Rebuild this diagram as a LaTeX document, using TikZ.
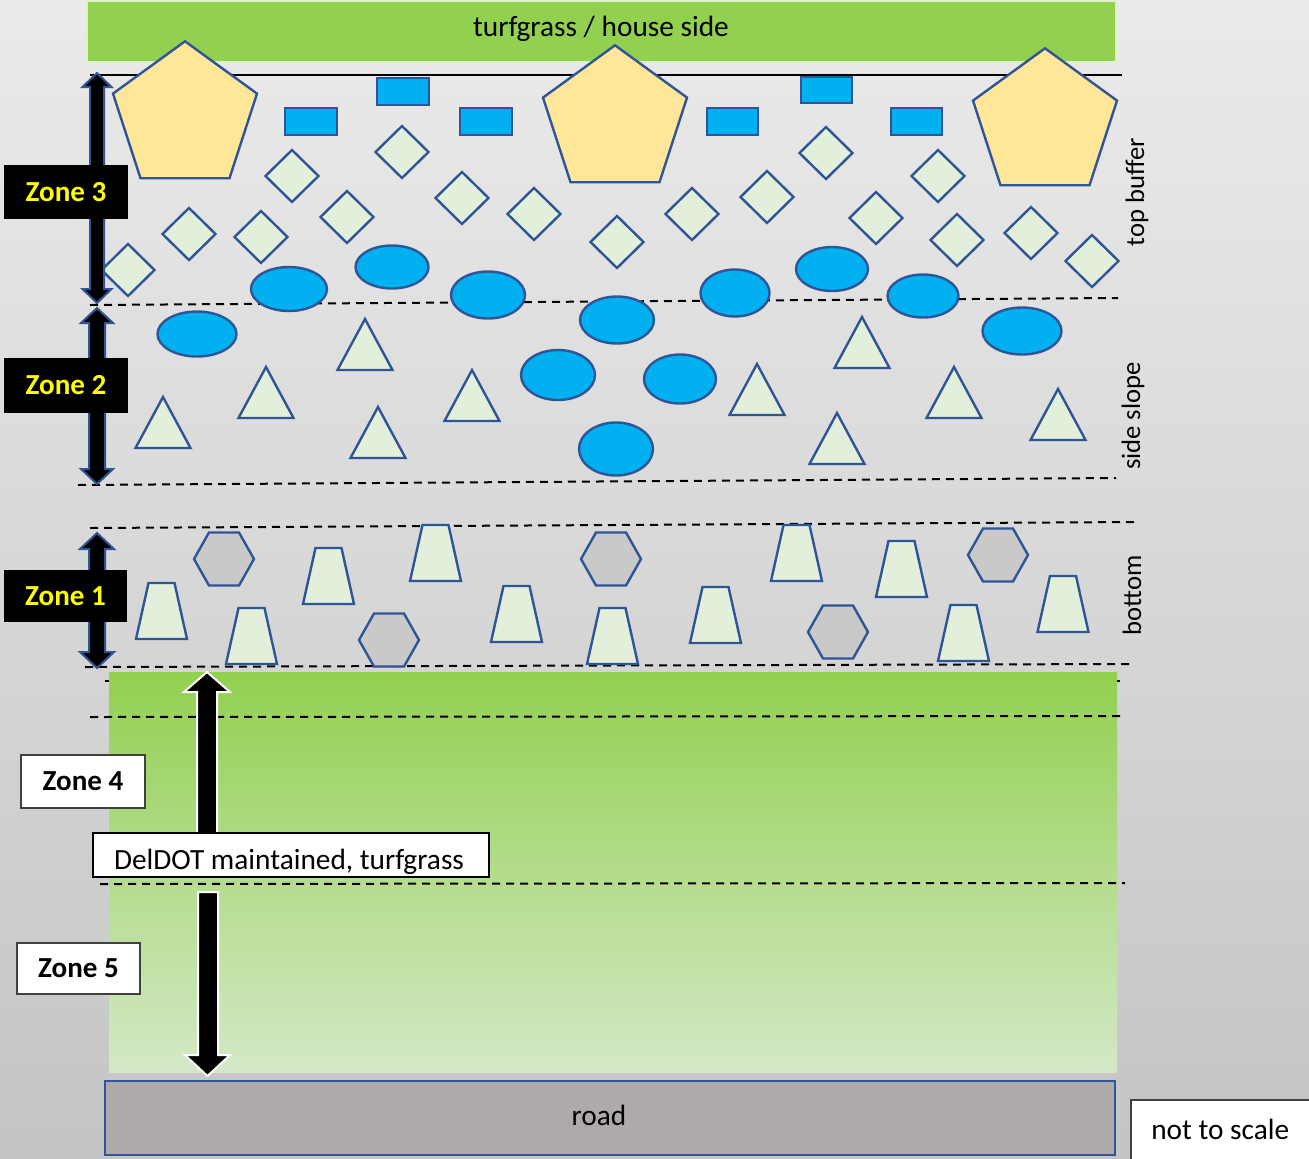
\documentclass[tikz,border=0pt]{standalone}
\usepackage{fontspec}
\setmainfont{Carlito}
\definecolor{sblue}{HTML}{2F5597}
\definecolor{sky}{HTML}{00B0F0}
\definecolor{lgreen}{HTML}{E2EFDA}
\definecolor{pentfill}{HTML}{FFE699}
\definecolor{hexfill}{HTML}{C9C9C9}
\definecolor{grass}{HTML}{92D050}
\definecolor{grasslight}{HTML}{D4E8C6}
\definecolor{roadfill}{HTML}{AEAAAA}
\definecolor{boxedge}{HTML}{404040}
\definecolor{zoneyellow}{HTML}{FFFF00}
\tikzset{
  shp/.style={draw=sblue, line width=1.8pt, line join=miter},
  dash line/.style={draw=black, line width=1.5pt, dash pattern=on 6pt off 4.5pt},
  lbl/.style={inner sep=0pt, font=\fontsize{22}{26}\selectfont},
  sidelbl/.style={inner sep=0pt, font=\fontsize{20}{24}\selectfont, rotate=90},
  zoneblk/.style={fill=black, inner sep=0pt, text=zoneyellow, font=\fontsize{21.8}{26}\selectfont\bfseries},
  zonewht/.style={fill=white, draw=boxedge, line width=1.5pt, inner sep=0pt, text=black, font=\fontsize{21.8}{26}\selectfont\bfseries},
  arrblue/.style={fill=black, draw=sblue, line width=1.5pt, line join=miter},
  arrwhite/.style={fill=black, draw=white, line width=1.5pt, line join=miter}
}
\newcommand\mkdiam[2]{\draw[shp,fill=lgreen] (#1,#2-26) -- (#1+26.5,#2) -- (#1,#2+26) -- (#1-26.5,#2) -- cycle;}
\newcommand\mktri[2]{\draw[shp,fill=lgreen] (#1,#2) -- (#1+27.5,#2+51) -- (#1-27.5,#2+51) -- cycle;}
\newcommand\mktrap[2]{\draw[shp,fill=lgreen] (#1-13,#2) -- (#1+13,#2) -- (#1+25.5,#2+56) -- (#1-25.5,#2+56) -- cycle;}
\newcommand\mkhex[2]{\draw[shp,fill=hexfill] (#1-30,#2) -- (#1-15,#2-26.5) -- (#1+15,#2-26.5) -- (#1+30,#2) -- (#1+15,#2+26.5) -- (#1-15,#2+26.5) -- cycle;}
\newcommand\mkell[4]{\draw[shp,fill=sky] (#1,#2) ellipse [x radius=#3*0.75pt, y radius=#4*0.75pt];}
\newcommand\mkrect[4]{\draw[shp,fill=sky] (#1,#2) rectangle (#3,#4);}
\newcommand\mkpent[2]{\draw[shp,fill=pentfill] (#1,#2-75.7) -- (#1+72,#2-23.4) -- (#1+44.5,#2+61.2) -- (#1-44.5,#2+61.2) -- (#1-72,#2-23.4) -- cycle;}
\newcommand\dblarr[6]{\draw[arrblue] (#1,#2) -- (#1+#5,#2+#4) -- (#1+#6,#2+#4) -- (#1+#6,#3-#4) -- (#1+#5,#3-#4) -- (#1,#3) -- (#1-#5,#3-#4) -- (#1-#6,#3-#4) -- (#1-#6,#2+#4) -- (#1-#5,#2+#4) -- cycle;}
\begin{document}
\begin{tikzpicture}[x=0.75pt,y=-0.75pt]
\useasboundingbox (0,0) rectangle (1309,1158);
% background
\shade[top color=black!8, middle color=black!11, bottom color=black!23] (0,0) rectangle (1309,1158);
% top green bar
\fill[grass] (87,1) rectangle (1116,62);
\draw[white!70!grass, line width=1pt] (87,1) rectangle (1116,62);
\node[lbl] (topbar) at (601,29) {turfgrass / house side};
% solid line
\draw[black, line width=1.5pt] (90,75) -- (1122,75);
% dashed zone lines
\draw[dash line] (90,305) -- (1118,298);
\draw[dash line] (78,485) -- (1116,478);
\draw[dash line] (90,528) -- (1135,522);
\draw[dash line] (85,667) -- (1130,664);
\draw[dash line] (105,681) -- (1120,681);
% lower green area
\shade[top color=grass, bottom color=grasslight] (109,672) rectangle (1117,1072);
\draw[dash line] (90,717) -- (1120,716);
\draw[dash line] (100,884) -- (1125,883);
% road
\draw[fill=roadfill, draw=sblue, line width=1.8pt] (105,1081) rectangle (1115,1155);
\node[lbl] (road) at (599,1115) {road};
% not to scale
\draw[fill=white, draw=boxedge, line width=1.5pt] (1131,1100) rectangle (1315,1165);
\node[lbl, anchor=west] (nts) at (1151,1129) {not to scale};
% side labels
\node[sidelbl] (topbuffer) at (1137,192) {top buffer};
\node[sidelbl] (sideslope) at (1133,416) {side slope};
\node[sidelbl] (bottomlbl) at (1132,595) {bottom};
% pentagons
\mkpent{185}{117}
\mkpent{615}{121}
\mkpent{1045}{124}
% rectangles
\mkrect{285}{108}{337}{135}
\mkrect{377}{78}{429}{105}
\mkrect{460}{108}{512}{135}
\mkrect{707}{108}{758}{135}
\mkrect{801}{77}{852}{103}
\mkrect{891}{108}{942}{135}
% diamonds
\mkdiam{128}{270}
\mkdiam{189}{234}
\mkdiam{261}{237}
\mkdiam{292}{176}
\mkdiam{347}{217}
\mkdiam{402}{152}
\mkdiam{462}{198}
\mkdiam{534}{214}
\mkdiam{617}{242}
\mkdiam{692}{214}
\mkdiam{767}{197}
\mkdiam{826}{153}
\mkdiam{876}{218}
\mkdiam{938}{176}
\mkdiam{957}{240}
\mkdiam{1031}{233}
\mkdiam{1092}{261}
% ellipses
\mkell{197}{334}{39.5}{22.5}
\mkell{289}{289}{38}{22}
\mkell{392}{267}{36.5}{21.5}
\mkell{488}{295}{37}{23.5}
\mkell{617}{320}{37}{23.5}
\mkell{558}{375}{37}{25}
\mkell{680}{379}{36}{24.5}
\mkell{616}{449}{37}{26.5}
\mkell{735}{293}{34.5}{23.5}
\mkell{832}{269}{36}{22}
\mkell{923}{296}{35.5}{21.5}
\mkell{1022}{331}{39.5}{23.5}
% triangles
\mktri{163}{397}
\mktri{266}{367}
\mktri{365}{319}
\mktri{378}{407}
\mktri{472}{370}
\mktri{757}{364}
\mktri{837}{413}
\mktri{862}{317}
\mktri{954}{367}
\mktri{1058}{389}
% trapezoids
\mktrap{161.5}{583}
\mktrap{251.5}{608}
\mktrap{328.5}{548}
\mktrap{435.5}{525}
\mktrap{516.5}{586}
\mktrap{612.5}{608}
\mktrap{715.5}{587}
\mktrap{796.5}{525}
\mktrap{901.5}{541}
\mktrap{963.5}{605}
\mktrap{1063}{576}
% hexagons
\mkhex{224}{559}
\mkhex{389}{640}
\mkhex{611}{559}
\mkhex{838}{632}
\mkhex{998}{555}
% zone arrows (blue outline)
\dblarr{97}{73}{303}{14}{14.5}{7}
\dblarr{97}{308}{484}{15}{16}{8}
\dblarr{97}{533}{668}{16}{17}{8}
% zone labels
\node[zoneblk, minimum width=93pt, minimum height=40.5pt] (zone3) at (66,192) {Zone 3};
\node[zoneblk, minimum width=93pt, minimum height=41.25pt] (zone2) at (66,385.5) {Zone 2};
\node[zoneblk, minimum width=92.25pt, minimum height=39pt] (zone1) at (65.5,596) {Zone 1};
% zone 4 / 5 arrows
\draw[arrwhite] (207,672) -- (230,692) -- (217,692) -- (217,833) -- (197,833) -- (197,692) -- (184,692) -- cycle;
\draw[arrwhite] (198,892) -- (218,892) -- (218,1055) -- (230,1055) -- (207.5,1076) -- (185,1055) -- (198,1055) -- cycle;
\node[zonewht, minimum width=93pt, minimum height=39.75pt] (zone4) at (83,781.5) {Zone 4};
\node[zonewht, minimum width=92.25pt, minimum height=38.25pt] (zone5) at (78.5,968.5) {Zone 5};
\node[draw=black, fill=white, line width=1.2pt, minimum width=297pt, minimum height=33pt, inner sep=0pt] (deldotbox) at (291,855) {};
\node[lbl] (deldot) at (289,862) {DelDOT maintained, turfgrass};
\end{tikzpicture}
\end{document}
